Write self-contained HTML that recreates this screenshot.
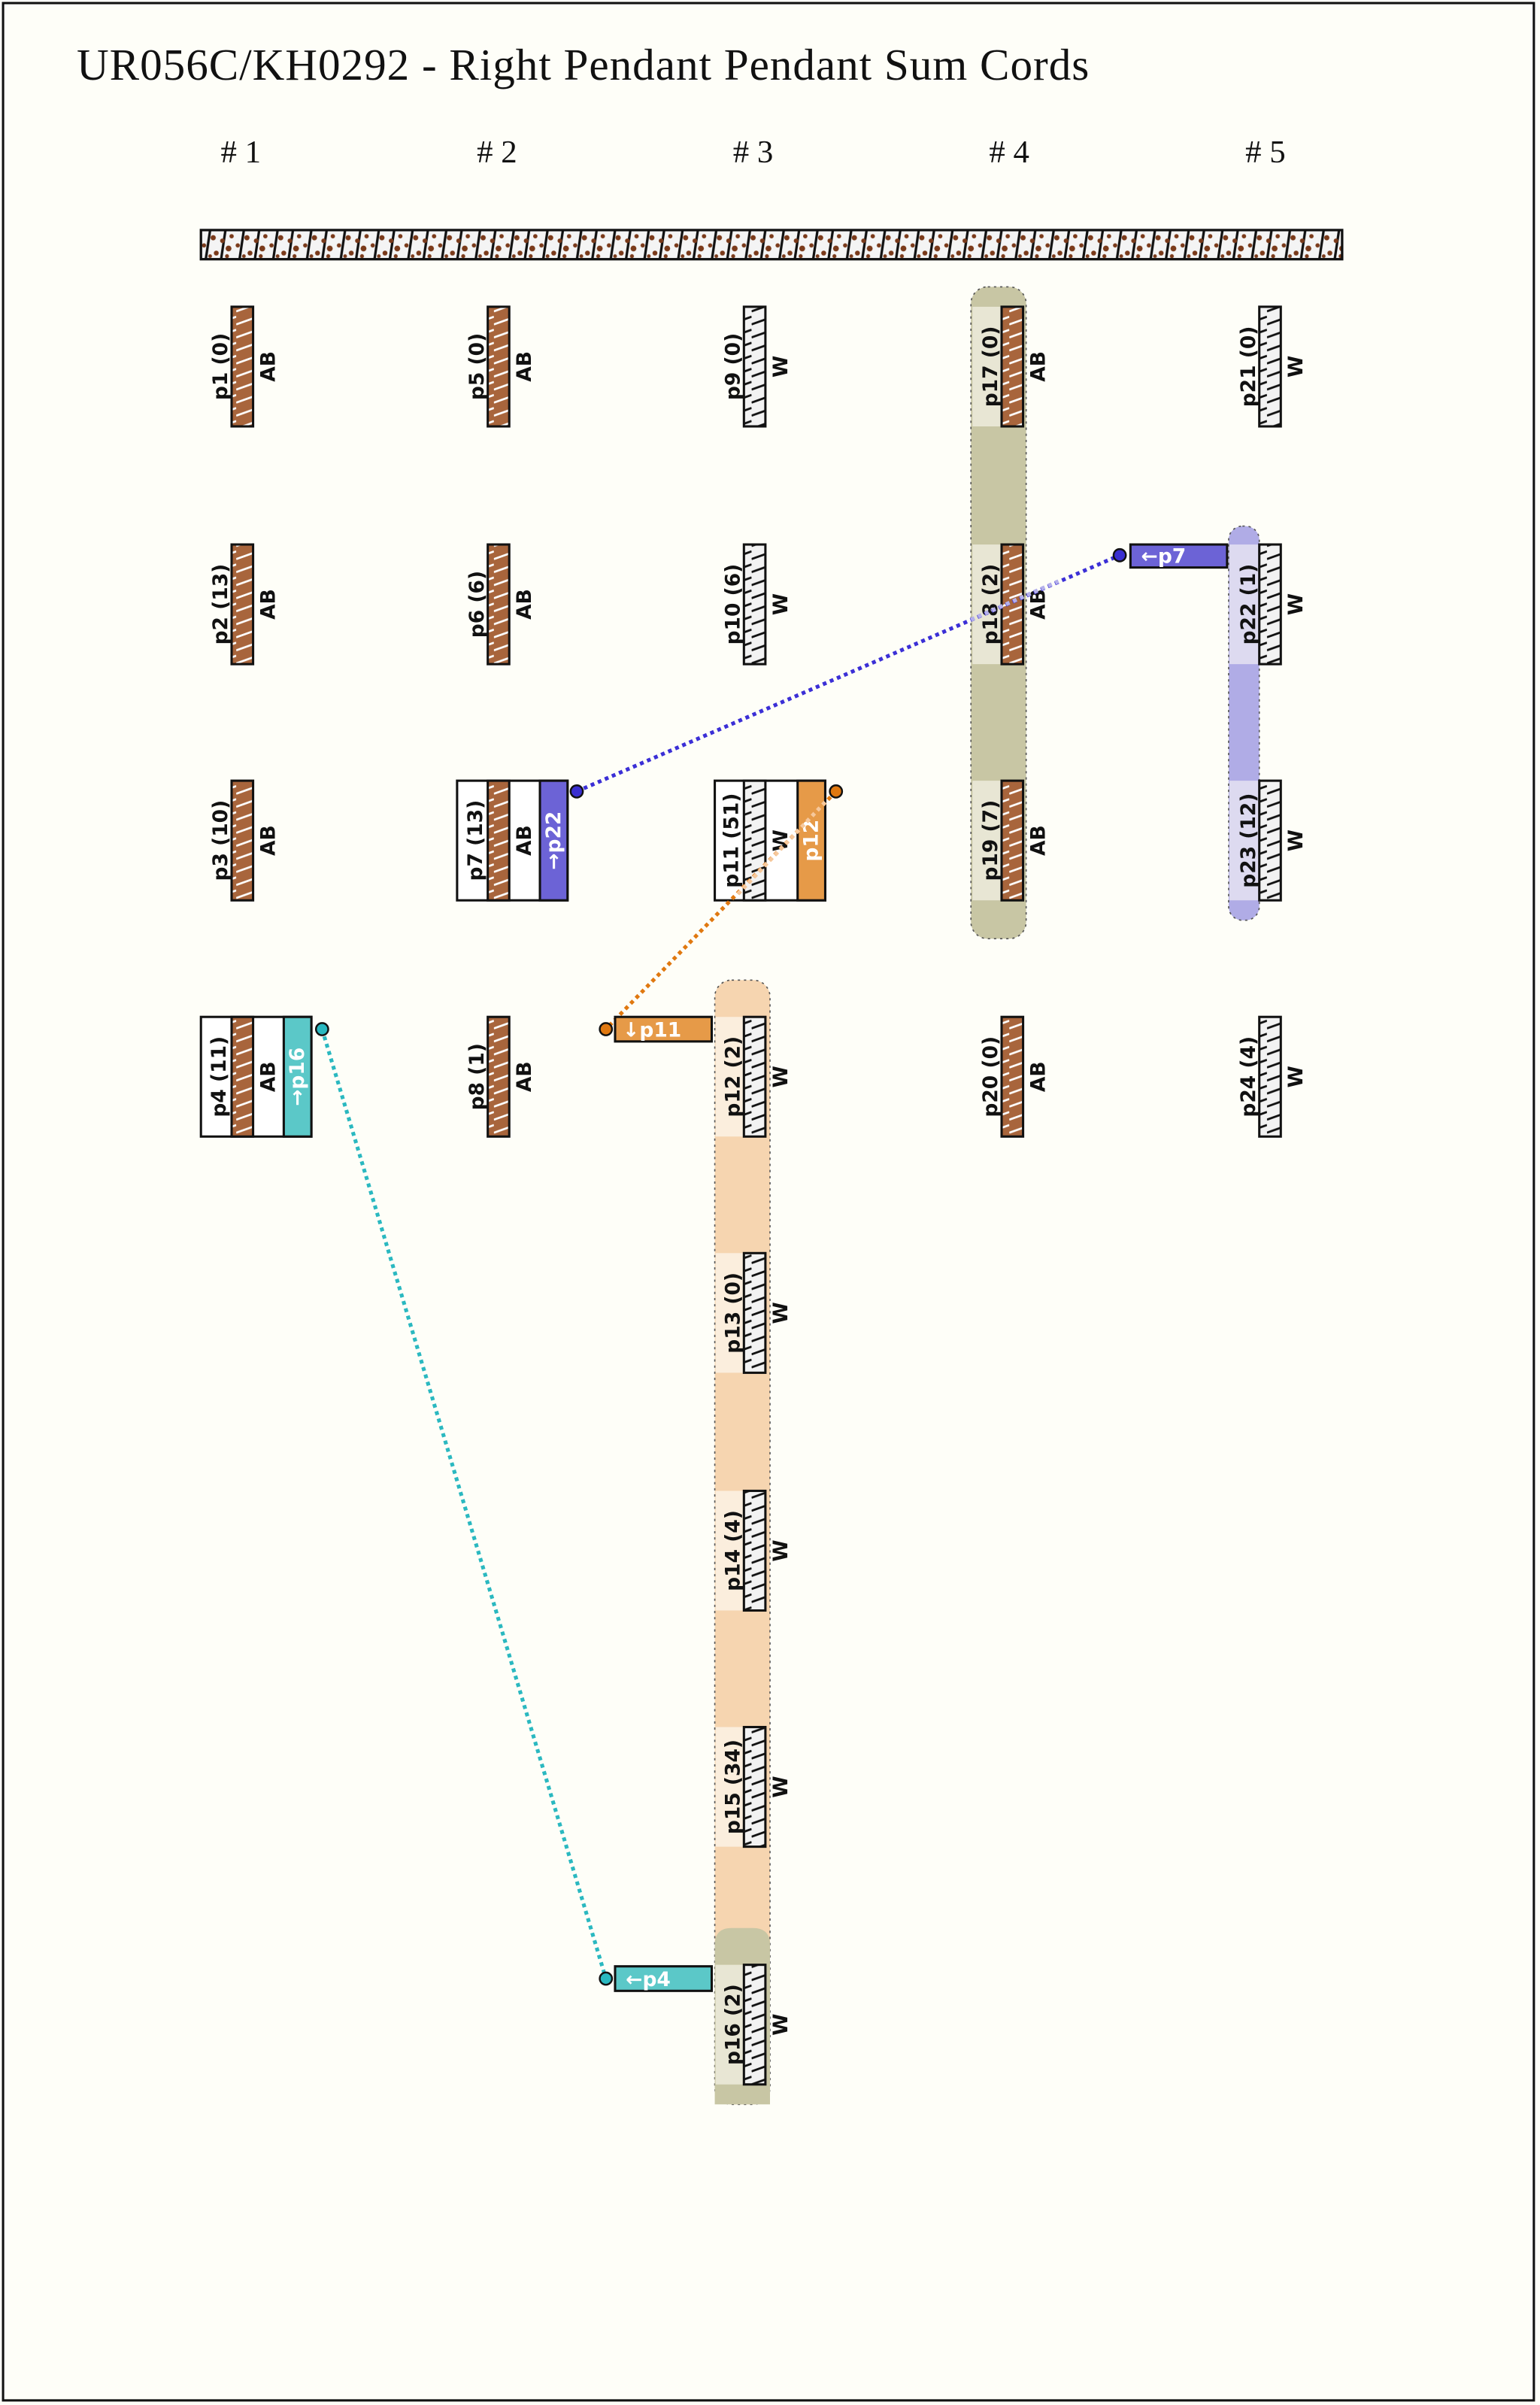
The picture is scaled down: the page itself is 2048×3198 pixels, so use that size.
<!DOCTYPE html>
<html><head><meta charset="utf-8"><style>
html,body{margin:0;padding:0;background:#fefef8;}
svg{display:block;}
.l{font-family:"DejaVu Sans","Liberation Sans",sans-serif;font-weight:bold;font-size:13px;fill:#111;}
.w{fill:#fff;}
</style></head><body>
<svg width="2048" height="3198" viewBox="0 0 1004 1568" preserveAspectRatio="none" xmlns="http://www.w3.org/2000/svg">
<defs>
<pattern id="ab" patternUnits="userSpaceOnUse" x="0" y="0" width="14" height="8.5">
<rect width="14" height="8.5" fill="#a8653c"/>
<line x1="0" y1="7.5" x2="14" y2="2.5" stroke="#fff" stroke-width="1.3"/>
</pattern>
<pattern id="wh" patternUnits="userSpaceOnUse" x="0" y="0" width="14" height="8.5">
<rect width="14" height="8.5" fill="#f2f2f2"/>
<line x1="0" y1="7.5" x2="14" y2="2.5" stroke="#111" stroke-width="1.4"/>
</pattern>
<pattern id="pc" patternUnits="userSpaceOnUse" x="131" y="150" width="22" height="20">
<rect width="22" height="20" fill="#f4f4f4"/>
<line x1="3" y1="20" x2="6" y2="0" stroke="#111" stroke-width="1.6"/>
<line x1="13" y1="20" x2="16" y2="0" stroke="#111" stroke-width="1.6"/>
<circle cx="8" cy="5" r="1.7" fill="#7a3a1a"/><circle cx="18" cy="12" r="1.9" fill="#7a3a1a"/>
<circle cx="10" cy="15" r="1.6" fill="#7a3a1a"/><circle cx="20" cy="4" r="1.4" fill="#7a3a1a"/>
<circle cx="2" cy="10" r="1.4" fill="#7a3a1a"/><circle cx="14" cy="7" r="1.5" fill="#7a3a1a"/>
<circle cx="6" cy="17" r="1.2" fill="#7a3a1a"/><circle cx="17" cy="17" r="1.3" fill="#7a3a1a"/>
</pattern>
</defs>
<rect x="0" y="0" width="1004" height="1568" fill="#fefef8"/>
<rect x="2" y="2" width="998" height="1563" fill="none" stroke="#111" stroke-width="1.5"/>
<text x="50" y="52" font-family="'Liberation Serif',serif" font-size="29" fill="#111" textLength="660" lengthAdjust="spacing">UR056C/KH0292 - Right Pendant Pendant Sum Cords</text>
<g font-family="'Liberation Serif',serif" font-size="21" fill="#111" text-anchor="middle">
<text x="157" y="106"># 1</text><text x="324" y="106"># 2</text><text x="491" y="106"># 3</text><text x="658" y="106"># 4</text><text x="825" y="106"># 5</text>
</g>
<rect x="131" y="150" width="744" height="19" fill="url(#pc)" stroke="#111" stroke-width="1.6"/>

<!-- groups -->
<rect x="633" y="187" width="36" height="425" rx="11" fill="#c8c6a4" stroke="#555" stroke-width="0.8" stroke-dasharray="1.5 2.5"/>
<rect x="634" y="200" width="19" height="78" fill="#e8e6d4"/>
<rect x="634" y="355" width="19" height="78" fill="#e8e6d4"/>
<rect x="634" y="509" width="19" height="78" fill="#e8e6d4"/>
<rect x="801" y="343" width="20" height="257" rx="9" fill="#b0ace6" stroke="#555" stroke-width="0.8" stroke-dasharray="1.5 2.5"/>
<rect x="801.5" y="355" width="19" height="78" fill="#dddaf0"/>
<rect x="801.5" y="509" width="19" height="78" fill="#dddaf0"/>
<rect x="466" y="639" width="36" height="733" rx="11" fill="#f6d5b0" stroke="#555" stroke-width="0.8" stroke-dasharray="1.5 2.5"/>
<rect x="466.5" y="663" width="19" height="78" fill="#fbeedd"/>
<rect x="466.5" y="817" width="19" height="78" fill="#fbeedd"/>
<rect x="466.5" y="972" width="19" height="78" fill="#fbeedd"/>
<rect x="466.5" y="1126" width="19" height="78" fill="#fbeedd"/>
<path d="M466,1372 L466,1268 Q466,1257 477,1257 L491,1257 Q502,1257 502,1268 L502,1372 Z" fill="#c8c6a4"/>
<rect x="466.5" y="1281" width="19" height="78" fill="#e8e6d4"/>

<!-- boxes -->
<rect x="131" y="663" width="72" height="78" fill="#fff" stroke="#111" stroke-width="1.5"/>
<rect x="185" y="663" width="18" height="78" fill="#5bc8c8" stroke="#111" stroke-width="1.5"/>
<rect x="298" y="509" width="72" height="78" fill="#fff" stroke="#111" stroke-width="1.5"/>
<rect x="352" y="509" width="18" height="78" fill="#6c63d6" stroke="#111" stroke-width="1.5"/>
<rect x="466" y="509" width="72" height="78" fill="#fff" stroke="#111" stroke-width="1.5"/>
<rect x="520" y="509" width="18" height="78" fill="#e69a48" stroke="#111" stroke-width="1.5"/>

<!-- cords -->
<g stroke="#111" stroke-width="1.5">
<rect x="151" y="200" width="14" height="78" fill="url(#ab)"/>
<rect x="151" y="355" width="14" height="78" fill="url(#ab)"/>
<rect x="151" y="509" width="14" height="78" fill="url(#ab)"/>
<rect x="151" y="663" width="14" height="78" fill="url(#ab)"/>
<rect x="318" y="200" width="14" height="78" fill="url(#ab)"/>
<rect x="318" y="355" width="14" height="78" fill="url(#ab)"/>
<rect x="318" y="509" width="14" height="78" fill="url(#ab)"/>
<rect x="318" y="663" width="14" height="78" fill="url(#ab)"/>
<rect x="485" y="200" width="14" height="78" fill="url(#wh)"/>
<rect x="485" y="355" width="14" height="78" fill="url(#wh)"/>
<rect x="485" y="509" width="14" height="78" fill="url(#wh)"/>
<rect x="485" y="663" width="14" height="78" fill="url(#wh)"/>
<rect x="485" y="817" width="14" height="78" fill="url(#wh)"/>
<rect x="485" y="972" width="14" height="78" fill="url(#wh)"/>
<rect x="485" y="1126" width="14" height="78" fill="url(#wh)"/>
<rect x="485" y="1281" width="14" height="78" fill="url(#wh)"/>
<rect x="653" y="200" width="14" height="78" fill="url(#ab)"/>
<rect x="653" y="355" width="14" height="78" fill="url(#ab)"/>
<rect x="653" y="509" width="14" height="78" fill="url(#ab)"/>
<rect x="653" y="663" width="14" height="78" fill="url(#ab)"/>
<rect x="821" y="200" width="14" height="78" fill="url(#wh)"/>
<rect x="821" y="355" width="14" height="78" fill="url(#wh)"/>
<rect x="821" y="509" width="14" height="78" fill="url(#wh)"/>
<rect x="821" y="663" width="14" height="78" fill="url(#wh)"/>
</g>

<!-- labels -->
<g class="l" text-anchor="middle" dominant-baseline="central">
<text transform="translate(144,239) rotate(-90)">p1 (0)</text><text transform="translate(175,239) rotate(-90)">AB</text>
<text transform="translate(144,394) rotate(-90)">p2 (13)</text><text transform="translate(175,394) rotate(-90)">AB</text>
<text transform="translate(144,548) rotate(-90)">p3 (10)</text><text transform="translate(175,548) rotate(-90)">AB</text>
<text transform="translate(143,702) rotate(-90)">p4 (11)</text><text transform="translate(175,702) rotate(-90)">AB</text>
<text class="w" transform="translate(194,702) rotate(-90)">→p16</text>
<text transform="translate(311,239) rotate(-90)">p5 (0)</text><text transform="translate(342,239) rotate(-90)">AB</text>
<text transform="translate(311,394) rotate(-90)">p6 (6)</text><text transform="translate(342,394) rotate(-90)">AB</text>
<text transform="translate(310,548) rotate(-90)">p7 (13)</text><text transform="translate(342,548) rotate(-90)">AB</text>
<text class="w" transform="translate(361,548) rotate(-90)">→p22</text>
<text transform="translate(311,702) rotate(-90)">p8 (1)</text><text transform="translate(342,702) rotate(-90)">AB</text>
<text transform="translate(478,239) rotate(-90)">p9 (0)</text><text transform="translate(509,239) rotate(-90)">W</text>
<text transform="translate(478,394) rotate(-90)">p10 (6)</text><text transform="translate(509,394) rotate(-90)">W</text>
<text transform="translate(477,548) rotate(-90)">p11 (51)</text><text transform="translate(509,548) rotate(-90)">W</text>
<text class="w" transform="translate(529,548) rotate(-90)">p12</text>
<text transform="translate(478,702) rotate(-90)">p12 (2)</text><text transform="translate(509,702) rotate(-90)">W</text>
<text transform="translate(478,856) rotate(-90)">p13 (0)</text><text transform="translate(509,856) rotate(-90)">W</text>
<text transform="translate(478,1011) rotate(-90)">p14 (4)</text><text transform="translate(509,1011) rotate(-90)">W</text>
<text transform="translate(478,1165) rotate(-90)">p15 (34)</text><text transform="translate(509,1165) rotate(-90)">W</text>
<text transform="translate(478,1320) rotate(-90)">p16 (2)</text><text transform="translate(509,1320) rotate(-90)">W</text>
<text transform="translate(646,239) rotate(-90)">p17 (0)</text><text transform="translate(677,239) rotate(-90)">AB</text>
<text transform="translate(646,394) rotate(-90)">p18 (2)</text><text transform="translate(677,394) rotate(-90)">AB</text>
<text transform="translate(646,548) rotate(-90)">p19 (7)</text><text transform="translate(677,548) rotate(-90)">AB</text>
<text transform="translate(646,702) rotate(-90)">p20 (0)</text><text transform="translate(677,702) rotate(-90)">AB</text>
<text transform="translate(814,239) rotate(-90)">p21 (0)</text><text transform="translate(845,239) rotate(-90)">W</text>
<text transform="translate(814,394) rotate(-90)">p22 (1)</text><text transform="translate(845,394) rotate(-90)">W</text>
<text transform="translate(814,548) rotate(-90)">p23 (12)</text><text transform="translate(845,548) rotate(-90)">W</text>
<text transform="translate(814,702) rotate(-90)">p24 (4)</text><text transform="translate(845,702) rotate(-90)">W</text>
</g>

<!-- connectors -->
<line x1="376" y1="516" x2="730" y2="362" stroke="#3b2fd6" stroke-width="2.5" stroke-dasharray="2.5 2.5"/>
<line x1="633" y1="404" x2="690" y2="379" stroke="#b4b0ea" stroke-width="2.6" stroke-dasharray="2.5 2.5"/>
<line x1="545" y1="516" x2="395" y2="671" stroke="#e07810" stroke-width="2.5" stroke-dasharray="2.5 2.5"/>
<line x1="538" y1="523" x2="480" y2="584" stroke="#f6c89c" stroke-width="2.6" stroke-dasharray="2.5 2.5"/>
<line x1="210" y1="671" x2="395" y2="1290" stroke="#2ab8c0" stroke-width="2.5" stroke-dasharray="2.5 2.5"/>

<rect x="737" y="355" width="63" height="15" fill="#6c63d6" stroke="#111" stroke-width="1.5"/>
<text x="744" y="367" class="l w">←p7</text>
<rect x="401" y="663" width="63" height="16" fill="#e69a48" stroke="#111" stroke-width="1.5"/>
<text x="406" y="676" class="l w">↓p11</text>
<rect x="401" y="1282" width="63" height="16" fill="#5bc8c8" stroke="#111" stroke-width="1.5"/>
<text x="408" y="1295" class="l w">←p4</text>

<g stroke="#111" stroke-width="1.2">
<circle cx="376" cy="516" r="4" fill="#3a2fd0"/>
<circle cx="730" cy="362" r="4" fill="#3a2fd0"/>
<circle cx="545" cy="516" r="4" fill="#e07810"/>
<circle cx="395" cy="671" r="4" fill="#e07810"/>
<circle cx="210" cy="671" r="4" fill="#2ab8c0"/>
<circle cx="395" cy="1290" r="4" fill="#2ab8c0"/>
</g>
</svg>
</body></html>
